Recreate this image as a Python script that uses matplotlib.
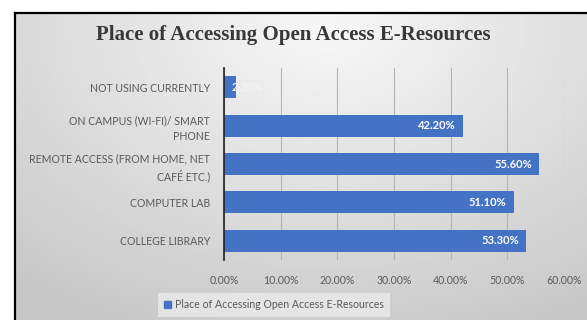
import matplotlib.pyplot as plt
import numpy as np
from matplotlib.patches import Patch
from matplotlib.lines import Line2D

# Survey responses: where students access open access e-resources
categories = ["COLLEGE LIBRARY", "COMPUTER LAB", "REMOTE ACCESS (FROM HOME, NET\nCAFÉ ETC.)",
              "ON CAMPUS (WI-FI)/ SMART\nPHONE", "NOT USING CURRENTLY"]
values = [53.3, 51.1, 55.6, 42.2, 2.2]
xticks = [0, 10, 20, 30, 40, 50, 60]
series_name = "Place of Accessing Open Access E-Resources"

bar_color = '#4472C4'
text_gray = '#595959'
W, H = 587, 320

fig = plt.figure(figsize=(W/100, H/100), dpi=100)

# grey gradient panel behind the chart
bg = fig.add_axes([15/W, 0, 1 - 15/W, 1 - 13/H])
yy, xx = np.mgrid[0:1:200j, 0:1:300j]
d = np.sqrt(((xx - 0.55) * 1.0) ** 2 + ((yy - 0.05) * 0.8) ** 2)
shade = np.clip(0.97 - 0.22 * d, 0.78, 0.97)
bg.imshow(shade, cmap='gray', vmin=0, vmax=1, aspect='auto', extent=[0, 1, 0, 1], origin='upper')
bg.axis('off')
fig.add_artist(Line2D([15/W, 15/W], [0, 1 - 13/H], color='black', lw=1.6, transform=fig.transFigure))
fig.add_artist(Line2D([15/W, 1], [1 - 13/H, 1 - 13/H], color='black', lw=1.6, transform=fig.transFigure))

ax = fig.add_axes([224/W, 60/H, 340/W, 192/H])
ax.patch.set_alpha(0)
y = np.arange(len(categories))
bars = ax.barh(y, values, height=0.57, color=bar_color, zorder=3)
ax.set_xlim(0, 60)
ax.set_ylim(-0.5, len(categories) - 0.5)
ax.set_xticks(xticks)
ax.set_xticklabels([f"{t:.2f}%" for t in xticks])
ax.set_yticks(y)
ax.set_yticklabels(categories, linespacing=1.5)
ax.tick_params(axis='both', length=0, colors=text_gray, labelsize=7.6)
ax.tick_params(axis='x', pad=11)
ax.tick_params(axis='y', pad=10)
for lbl in ax.get_xticklabels() + ax.get_yticklabels():
    lbl.set_fontfamily('Lato')
ax.xaxis.grid(True, color='#b4b4b4', lw=0.8, zorder=0)
for s in ['top', 'right', 'bottom']:
    ax.spines[s].set_visible(False)
ax.spines['left'].set_color('#222222')
ax.spines['left'].set_linewidth(1.2)
ax.spines['left'].set_zorder(4)

for yi, v in zip(y, values):
    if v > 10:
        ax.text(v - 1.3, yi, f"{v:.2f}%", ha='right', va='center', color='white',
                fontsize=8, fontweight='bold', family='Lato', zorder=4)
    else:
        # short bar: label starts at the bar and runs past it
        ax.text(1.3, yi, f"{v:.2f}%", ha='left', va='center', color='#f4f4f4',
                fontsize=8, fontweight='bold', family='Lato', zorder=4)

fig.text(0.5, 1 - 35/H, series_name, ha='center', va='center', fontsize=15,
         fontweight='bold', family='Liberation Serif', color='#383838')

leg = fig.legend(handles=[Patch(color=bar_color, label=series_name)], loc='center',
                 bbox_to_anchor=(274/W, 1 - 305/H), frameon=True, fancybox=False,
                 handlelength=0.6, handleheight=0.6, handletextpad=0.4,
                 borderpad=0.6, borderaxespad=0, prop={'family': 'Lato', 'size': 7.6})
leg.get_frame().set_facecolor('#ebebeb')
leg.get_frame().set_edgecolor('none')
for t in leg.get_texts():
    t.set_color(text_gray)

fig.savefig('out.png', dpi=100)
